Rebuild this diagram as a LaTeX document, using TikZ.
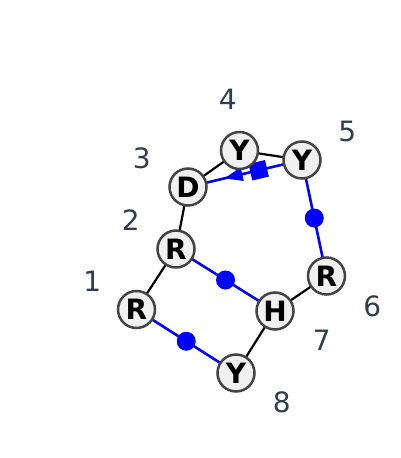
\documentclass[tikz,border=0pt]{standalone}
\usepackage{fontspec}
\setmainfont{DejaVu Sans}
\usetikzlibrary{calc}
\definecolor{lab}{HTML}{2C3E50}
\definecolor{nfill}{HTML}{F0F0F0}
\definecolor{nline}{HTML}{444444}
\begin{document}
\begin{tikzpicture}[x=1pt,y=-1pt,
  res/.style={circle,draw=nline,line width=2.5pt,fill=nfill,minimum size=37pt,inner sep=0pt,font=\fontsize{28}{28}\selectfont\bfseries},
  num/.style={text=lab,font=\fontsize{28}{28}\selectfont},
  bb/.style={black,line width=2.2pt},
  bl/.style={blue,line width=2.6pt},
  dot/.style={circle,fill=blue,inner sep=0pt,minimum size=19pt}]
\useasboundingbox (0,0) rectangle (400,458);
\coordinate (p1) at (136.5,309.5);
\coordinate (p2) at (176,249);
\coordinate (p3) at (188,187);
\coordinate (p4) at (239.5,150.5);
\coordinate (p5) at (302,160);
\coordinate (p6) at (326.5,276);
\coordinate (p7) at (275,311);
\coordinate (p8) at (236,373);
% edges (center to center, drawn beneath the circles)
\draw[bb] (p1) -- (p2);
\draw[bb] (p2) -- (p3);
\draw[bb] (p3) -- (p4);
\draw[bb] (p4) -- (p5);
\draw[bb] (p6) -- (p7);
\draw[bb] (p7) -- (p8);
\draw[bl] (p2) -- (p7) node[dot,pos=0.5] (d27) {};
\draw[bl] (p1) -- (p8) node[dot,pos=0.5] (d18) {};
\draw[bl] (p5) -- (p6) node[dot,pos=0.5] (d56) {};
\draw[bl] (p3) -- (p5)
  coordinate[pos=0.32] (t1) coordinate[pos=0.475] (t2)
  node[pos=0.62,sloped,fill=blue,minimum size=17pt,inner sep=0pt] (sq) {};
\fill[blue] (t1) -- ($(t2)!7pt!90:(t1)$) -- ($(t2)!7pt!-90:(t1)$) -- cycle;
% nodes
\node[res] (n1) at (p1) {R};
\node[res] (n2) at (p2) {R};
\node[res] (n3) at (p3) {D};
\node[res] (n4) at (p4) {Y};
\node[res] (n5) at (p5) {Y};
\node[res] (n6) at (p6) {R};
\node[res] (n7) at (p7) {H};
\node[res] (n8) at (p8) {Y};
% labels
\node[num] (l1) at (92.3,281.5) {1};
\node[num] (l2) at (130.7,220) {2};
\node[num] (l3) at (141.7,158.3) {3};
\node[num] (l4) at (227.7,99.3) {4};
\node[num] (l5) at (347.3,131) {5};
\node[num] (l6) at (372.3,306.7) {6};
\node[num] (l7) at (321.7,340.5) {7};
\node[num] (l8) at (281.7,402.7) {8};
\end{tikzpicture}
\end{document}
